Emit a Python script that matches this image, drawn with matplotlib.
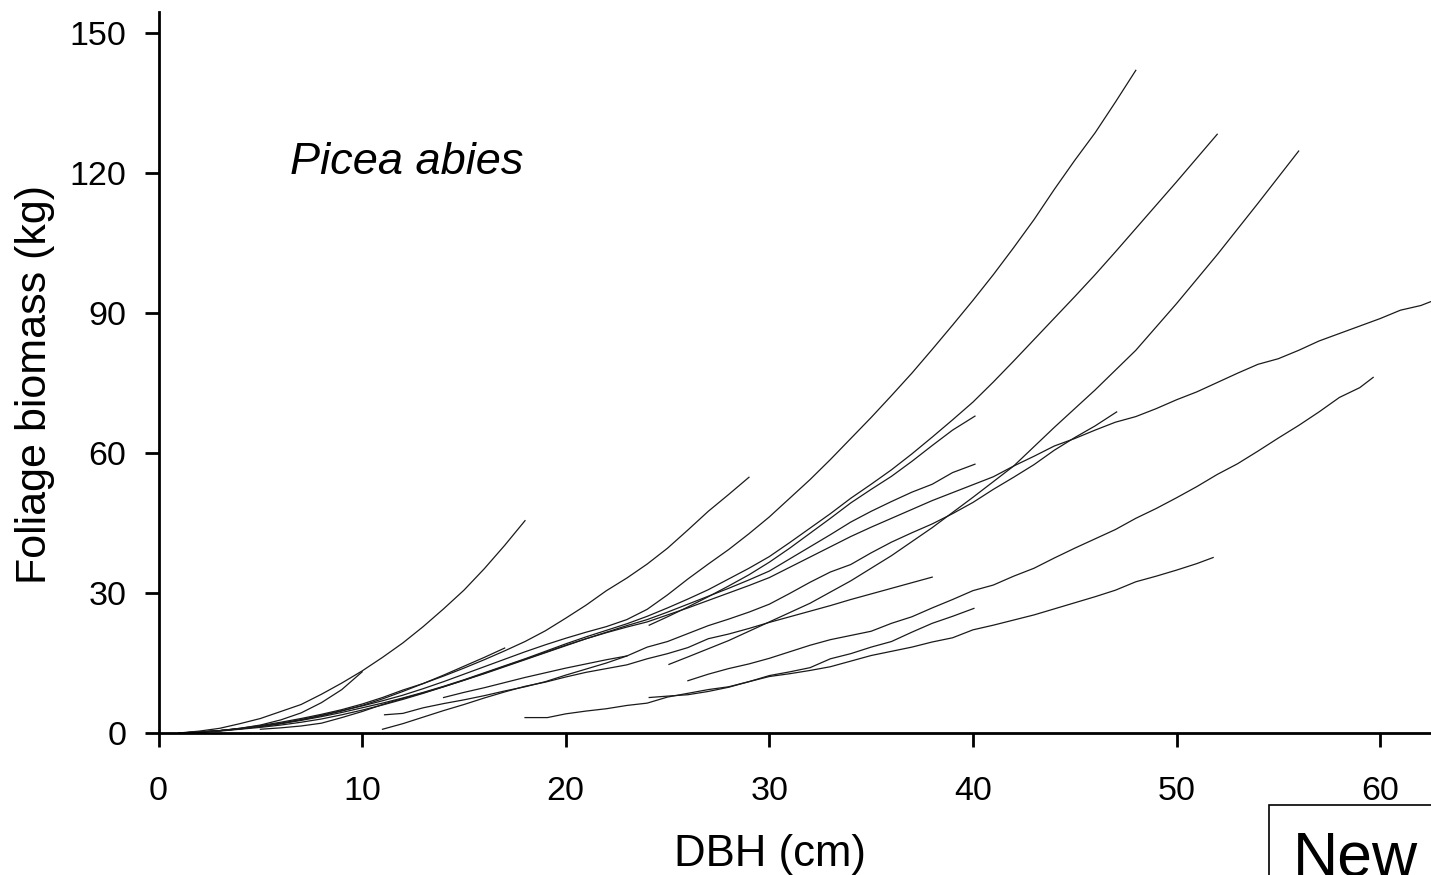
import matplotlib
matplotlib.use("Agg")
import matplotlib.pyplot as plt
from matplotlib.patches import Rectangle

plt.rcParams['font.family'] = ['Liberation Sans', 'DejaVu Sans']

# foliage biomass (kg) against DBH (cm), one pair of lists per tree curve
dbh_01 = [1, 2, 3, 4, 5, 6, 7, 8, 9, 10, 11, 12, 13, 14, 15, 16, 17, 18]
fol_01 = [0, 0.4, 1.0, 2.0, 3.1, 4.6, 6.1, 8.3, 10.7, 13.3, 16.2, 19.3, 22.8, 26.6, 30.6, 35.2, 40.2, 45.5]

dbh_02 = [1.5, 3, 4, 5, 6, 7, 8, 9, 10]
fol_02 = [0, 0.5, 1.0, 1.7, 2.8, 4.3, 6.5, 9.3, 13.1]

dbh_03 = [1, 2, 3, 4, 5, 6, 7, 8, 9, 10, 11, 12, 13, 14, 15, 16, 17]
fol_03 = [0, 0.2, 0.5, 0.9, 1.4, 2.0, 2.8, 3.7, 4.7, 5.9, 7.3, 8.9, 10.6, 12.4, 14.3, 16.2, 18.2]

dbh_04 = [1, 2, 3, 4, 5, 6, 7, 8, 9, 10, 11, 12, 13, 14, 15, 16, 17, 18, 19, 20,
          21, 22, 23, 24, 25, 26, 27, 28, 29]
fol_04 = [0, 0.2, 0.5, 1.0, 1.6, 2.3, 3.1, 4.0, 5.0, 6.2, 7.6, 9.2, 10.6, 12.2, 13.9, 15.7, 17.6, 19.6, 21.9, 24.6,
          27.4, 30.5, 33.2, 36.2, 39.6, 43.5, 47.5, 51.1, 54.8]

dbh_05 = [1, 2, 3, 4, 5, 6, 7, 8, 9, 10, 11, 12, 13, 14, 15, 16, 17, 18, 19, 20,
          21, 22, 23, 24, 25, 26, 27, 28, 29, 30, 31, 32, 33, 34, 35, 36, 37, 38, 39, 40,
          41, 42, 43, 44, 45, 46, 47, 48]
fol_05 = [0, 0.2, 0.5, 0.9, 1.4, 2.1, 2.9, 3.8, 4.8, 5.8, 6.9, 8.1, 9.5, 11.0, 12.6, 14.2, 15.8, 17.4, 18.9, 20.3,
          21.6, 22.8, 24.3, 26.5, 29.6, 33.0, 36.2, 39.3, 42.7, 46.3, 50.3, 54.3, 58.6, 63.1, 67.6, 72.3, 77.1, 82.2, 87.4, 92.7,
          98.2, 104.0, 110.0, 116.5, 122.7, 128.6, 135.2, 142.0]

dbh_06 = [1, 2, 3, 4, 5, 6, 7, 8, 9, 10, 11, 12, 13, 14, 15, 16, 17, 18, 19, 20,
          21, 22, 23, 24, 25, 26, 27, 28, 29, 30, 31, 32, 33, 34, 35, 36, 37, 38, 39, 40,
          41, 42, 43, 44, 45, 46, 47, 48, 49, 50, 51, 52]
fol_06 = [0, 0.2, 0.5, 0.9, 1.4, 2.0, 2.7, 3.5, 4.4, 5.4, 6.4, 7.5, 8.7, 10.0, 11.4, 12.9, 14.4, 15.9, 17.5, 19.1,
          20.6, 22.0, 23.4, 25.0, 26.8, 28.7, 30.7, 33.0, 35.3, 37.8, 40.8, 43.9, 47.0, 50.3, 53.3, 56.4, 59.8, 63.4, 67.1, 70.9,
          75.2, 79.7, 84.3, 88.9, 93.5, 98.2, 103.1, 108.1, 113.1, 118.1, 123.2, 128.3]

dbh_07 = [24.1, 25, 26, 27, 28, 29, 30, 31, 32, 33, 34, 35, 36, 37, 38, 39, 40.1]
fol_07 = [23.1, 24.9, 27.0, 29.2, 31.5, 33.9, 36.6, 39.6, 42.8, 46.0, 49.3, 52.2, 55.0, 58.2, 61.6, 64.9, 67.9]

dbh_08 = [5, 6, 7, 8, 9, 10, 11, 12, 13, 14, 15, 16, 17, 18, 19, 20, 21, 22, 23, 24,
          25, 26, 27, 28, 29, 30, 31, 32, 33, 34, 35, 36, 37, 38, 39, 40.1]
fol_08 = [0.8, 1.1, 1.5, 2.1, 3.3, 4.6, 6.1, 7.4, 8.6, 9.9, 11.3, 12.7, 14.2, 15.7, 17.2, 18.7, 20.2, 21.6, 23.0, 24.3,
          25.9, 27.6, 29.3, 31.0, 32.8, 34.7, 37.3, 39.9, 42.5, 45.2, 47.5, 49.6, 51.6, 53.3, 55.8, 57.6]

dbh_09 = [1, 2, 3, 4, 5, 6, 7, 8, 9, 10, 11, 12, 13, 14, 15, 16, 17, 18, 19, 20,
          21, 22, 23, 24, 25, 26, 27, 28, 29, 30, 31, 32, 33, 34, 35, 36, 37, 38, 39, 40,
          41, 42, 43, 44, 45, 46, 47, 48, 49, 50, 51, 52, 53, 54, 55, 56, 57, 58, 59, 60,
          61, 62, 63]
fol_09 = [0, 0.2, 0.4, 0.8, 1.2, 1.7, 2.3, 3.0, 3.9, 4.9, 6.0, 7.2, 8.5, 9.9, 11.3, 12.8, 14.3, 15.8, 17.3, 18.8,
          20.2, 21.5, 22.7, 23.8, 25.3, 26.8, 28.4, 30.0, 31.6, 33.3, 35.5, 37.7, 39.9, 42.1, 44.1, 46.0, 47.9, 49.8, 51.5, 53.2,
          54.9, 57.2, 59.3, 61.5, 63.1, 64.9, 66.6, 67.8, 69.5, 71.4, 73.1, 75.1, 77.1, 79.0, 80.2, 82.0, 84.0, 85.6, 87.2, 88.8,
          90.6, 91.6, 93.3]

dbh_10 = [11.1, 12, 13, 14, 15, 16, 17, 18, 19, 20, 21, 22, 23, 24, 25, 26, 27, 28, 29, 30,
          31, 32, 33, 34, 35, 36, 37, 38, 39, 40, 41, 42, 43, 44, 45, 46, 47.06]
fol_10 = [3.9, 4.2, 5.4, 6.3, 7.1, 8.0, 9.0, 9.9, 11.0, 12.4, 13.7, 15.0, 16.5, 18.4, 19.6, 21.3, 23.0, 24.4, 25.9, 27.6,
          29.9, 32.3, 34.5, 36.1, 38.6, 40.9, 42.9, 44.8, 47.0, 49.4, 52.2, 54.8, 57.5, 60.6, 63.3, 65.8, 68.8]

dbh_11 = [11, 12, 13, 14, 15, 16, 17, 18, 19, 20, 21, 22, 23, 24, 25, 26, 27, 28, 29, 30,
          31, 32, 33, 34, 35, 36, 37, 38]
fol_11 = [0.8, 2.0, 3.4, 4.8, 6.1, 7.5, 8.8, 10.0, 10.9, 12.0, 13.0, 13.8, 14.6, 15.9, 17.0, 18.3, 20.2, 21.2, 22.4, 23.7,
          24.9, 26.1, 27.3, 28.6, 29.8, 31.0, 32.2, 33.4]

dbh_12 = [14, 15, 16, 17, 18, 19, 20, 21, 22, 23]
fol_12 = [7.6, 8.7, 9.7, 10.8, 11.9, 12.9, 13.9, 14.8, 15.7, 16.5]

dbh_13 = [25.07, 26, 28, 30, 32, 34, 36, 38, 40, 42, 44, 46, 48, 50, 52, 54, 56]
fol_13 = [14.7, 16.3, 19.8, 23.8, 27.8, 32.6, 38.0, 44.0, 50.5, 57.2, 65.5, 73.5, 82.0, 92.0, 102.5, 113.5, 124.7]

dbh_14 = [26, 27, 28, 29, 30, 31, 32, 33, 34, 35, 36, 37, 38, 39, 40, 41, 42, 43, 44, 45,
          46, 47, 48, 49, 50, 51, 52, 53, 54, 55, 56, 57, 58, 59, 59.66]
fol_14 = [11.2, 12.6, 13.8, 14.8, 16.0, 17.4, 18.8, 20.0, 20.9, 21.8, 23.5, 24.9, 26.8, 28.6, 30.5, 31.7, 33.6, 35.3, 37.5, 39.6,
          41.6, 43.6, 46.0, 48.1, 50.4, 52.8, 55.4, 57.7, 60.4, 63.2, 65.9, 68.8, 71.9, 74.0, 76.2]

dbh_15 = [24.1, 25, 26, 27, 28, 29, 30, 31, 32, 33, 34, 35, 36, 37, 38, 39, 40.05]
fol_15 = [7.6, 7.9, 8.2, 8.9, 9.8, 11.0, 12.3, 13.1, 14.0, 15.9, 17.0, 18.4, 19.6, 21.6, 23.5, 25.0, 26.7]

dbh_16 = [18, 19.1, 20, 21, 22, 23, 24, 25, 26, 27, 28, 29, 30, 31, 32, 33, 34, 35, 36, 37,
          38, 39, 40, 41, 42, 43, 44, 45, 46, 47, 48, 49, 50, 51, 51.8]
fol_16 = [3.3, 3.3, 4.1, 4.7, 5.2, 5.9, 6.4, 7.7, 8.5, 9.3, 9.9, 11.0, 12.1, 12.7, 13.4, 14.2, 15.4, 16.6, 17.5, 18.4,
          19.5, 20.4, 22.1, 23.1, 24.2, 25.3, 26.6, 27.9, 29.2, 30.6, 32.4, 33.6, 34.9, 36.3, 37.6]

curves = [(dbh_01, fol_01), (dbh_02, fol_02), (dbh_03, fol_03), (dbh_04, fol_04),
          (dbh_05, fol_05), (dbh_06, fol_06), (dbh_07, fol_07), (dbh_08, fol_08),
          (dbh_09, fol_09), (dbh_10, fol_10), (dbh_11, fol_11), (dbh_12, fol_12),
          (dbh_13, fol_13), (dbh_14, fol_14), (dbh_15, fol_15), (dbh_16, fol_16)]

x_ticks = [0, 10, 20, 30, 40, 50, 60]
y_ticks = [0, 30, 60, 90, 120, 150]

fig = plt.figure(figsize=(14.31, 8.75), dpi=100)
ax = fig.add_axes([0.1108, 0.1623, 0.8892, 0.824])

for x, y in curves:
    ax.plot(x, y, color='#1a1a1a', lw=0.9)

ax.set_xlim(0, 62.5)
ax.set_ylim(0, 154.5)
ax.set_xticks(x_ticks)
ax.set_yticks(y_ticks)

ax.spines['top'].set_visible(False)
ax.spines['right'].set_visible(False)
ax.spines['left'].set_linewidth(2)
ax.spines['bottom'].set_linewidth(2)
ax.tick_params(direction='out', length=10, width=2, labelsize=24.5)
ax.tick_params(axis='x', pad=21)
ax.tick_params(axis='y', pad=13)

ax.set_xlabel('DBH (cm)', fontsize=31.5)
ax.xaxis.set_label_coords(0.4805, -0.169)
ax.xaxis.label.set_va('center')
ax.set_ylabel('Foliage biomass (kg)', fontsize=31)
ax.yaxis.set_label_coords(-0.0971, 0.4827)
ax.yaxis.label.set_va('center')

ax.text(6.45, 122.3, 'Picea abies', style='italic', fontsize=32.5, va='center')

# the clipped box in the bottom-right corner (its label is cut by the edge, as in the source)
fig.patches.append(Rectangle((0.8868, -0.1), 0.2, 0.18, transform=fig.transFigure,
                             fill=False, ec='black', lw=1.2))
fig.text(0.9036, 0.0, 'New', fontsize=45, va='baseline')

fig.savefig('out.png', dpi=100)
